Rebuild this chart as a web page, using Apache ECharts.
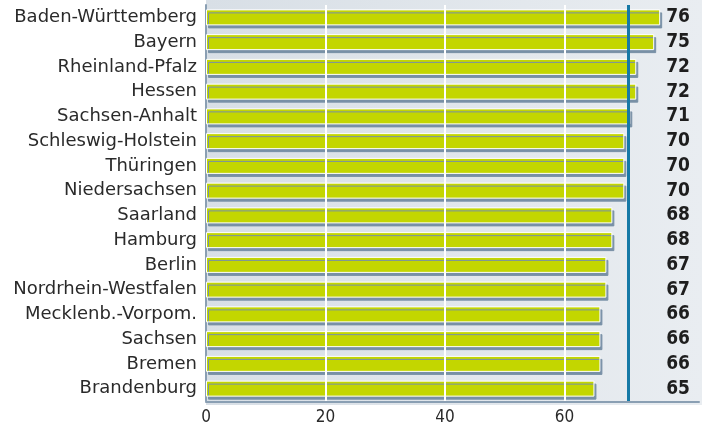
<!DOCTYPE html>
<html><head><meta charset="utf-8">
<script src="https://cdn.jsdelivr.net/npm/echarts@6/dist/echarts.min.js"></script>
<style>html,body{margin:0;padding:0;background:#fff}#c{width:702px;height:426px}</style>
</head><body><div id="c"></div>
<script>
const categories = ['Baden-Württemberg','Bayern','Rheinland-Pfalz','Hessen','Sachsen-Anhalt','Schleswig-Holstein','Thüringen','Niedersachsen','Saarland','Hamburg','Berlin','Nordrhein-Westfalen','Mecklenb.-Vorpom.','Sachsen','Bremen','Brandenburg'];
const values = [76,75,72,72,71,70,70,70,68,68,67,67,66,66,66,65];
const average = 70.7;
const tickValues = [0,20,40,60];
const gridLineValues = [20,40,60];

const chart = echarts.init(document.getElementById('c'), null, {renderer:'canvas'});
const labelFont = '"DejaVu Sans", sans-serif';
const numFont = '"DejaVu Sans Condensed", "DejaVu Sans", sans-serif';
chart.setOption({
  animation:false,
  graphic:[{type:'rect', z:-10, shape:{x:206,y:0,width:496,height:405},
    style:{fill:new echarts.graphic.LinearGradient(0,0,1,0,[{offset:0,color:'#d8dfe6'},{offset:1,color:'#e9edf1'}])}}],
  grid:{left:206,right:0,top:5,bottom:23,containLabel:false},
  xAxis:{type:'value',min:0,max:82.5,interval:20,offset:1,
    axisLine:{show:true,lineStyle:{color:'#8a9fb3',width:2}},
    axisTick:{show:false},splitLine:{show:false},
    axisLabel:{color:'#2a2a2a',fontSize:17,fontFamily:numFont,margin:7,
      formatter:v=>tickValues.includes(v)?String(v):''}},
  yAxis:[{type:'category',data:categories,inverse:true,
    axisLine:{show:true,lineStyle:{color:'#8a9fb3',width:2}},
    axisTick:{show:false},
    axisLabel:{color:'#2a2a2a',fontSize:18,fontFamily:labelFont,margin:9}},
   {type:'category',data:values.map(String),inverse:true,position:'right',
    axisLine:{show:false},axisTick:{show:false},
    axisLabel:{inside:true,color:'#1e1e1e',fontSize:19,fontWeight:'bold',fontFamily:numFont,margin:9}}],
  series:[
   {type:'line',data:[],z:1,silent:true,
    markLine:{symbol:'none',silent:true,label:{show:false},
      lineStyle:{color:'#ffffff',width:2,type:'solid'},
      data:gridLineValues.map(v=>({xAxis:v}))}},
   {type:'bar',data:values,barWidth:16,z:3,
    itemStyle:{color:'#c3d600',borderColor:'#ffffff',borderWidth:1,
      shadowColor:'#7890a6',shadowBlur:0,shadowOffsetX:2,shadowOffsetY:3},
    markLine:{symbol:'none',silent:true,label:{show:false},
      lineStyle:{color:'#1679a6',width:3,type:'solid'},
      data:[{xAxis:average}]}}
  ]
});
</script></body></html>
